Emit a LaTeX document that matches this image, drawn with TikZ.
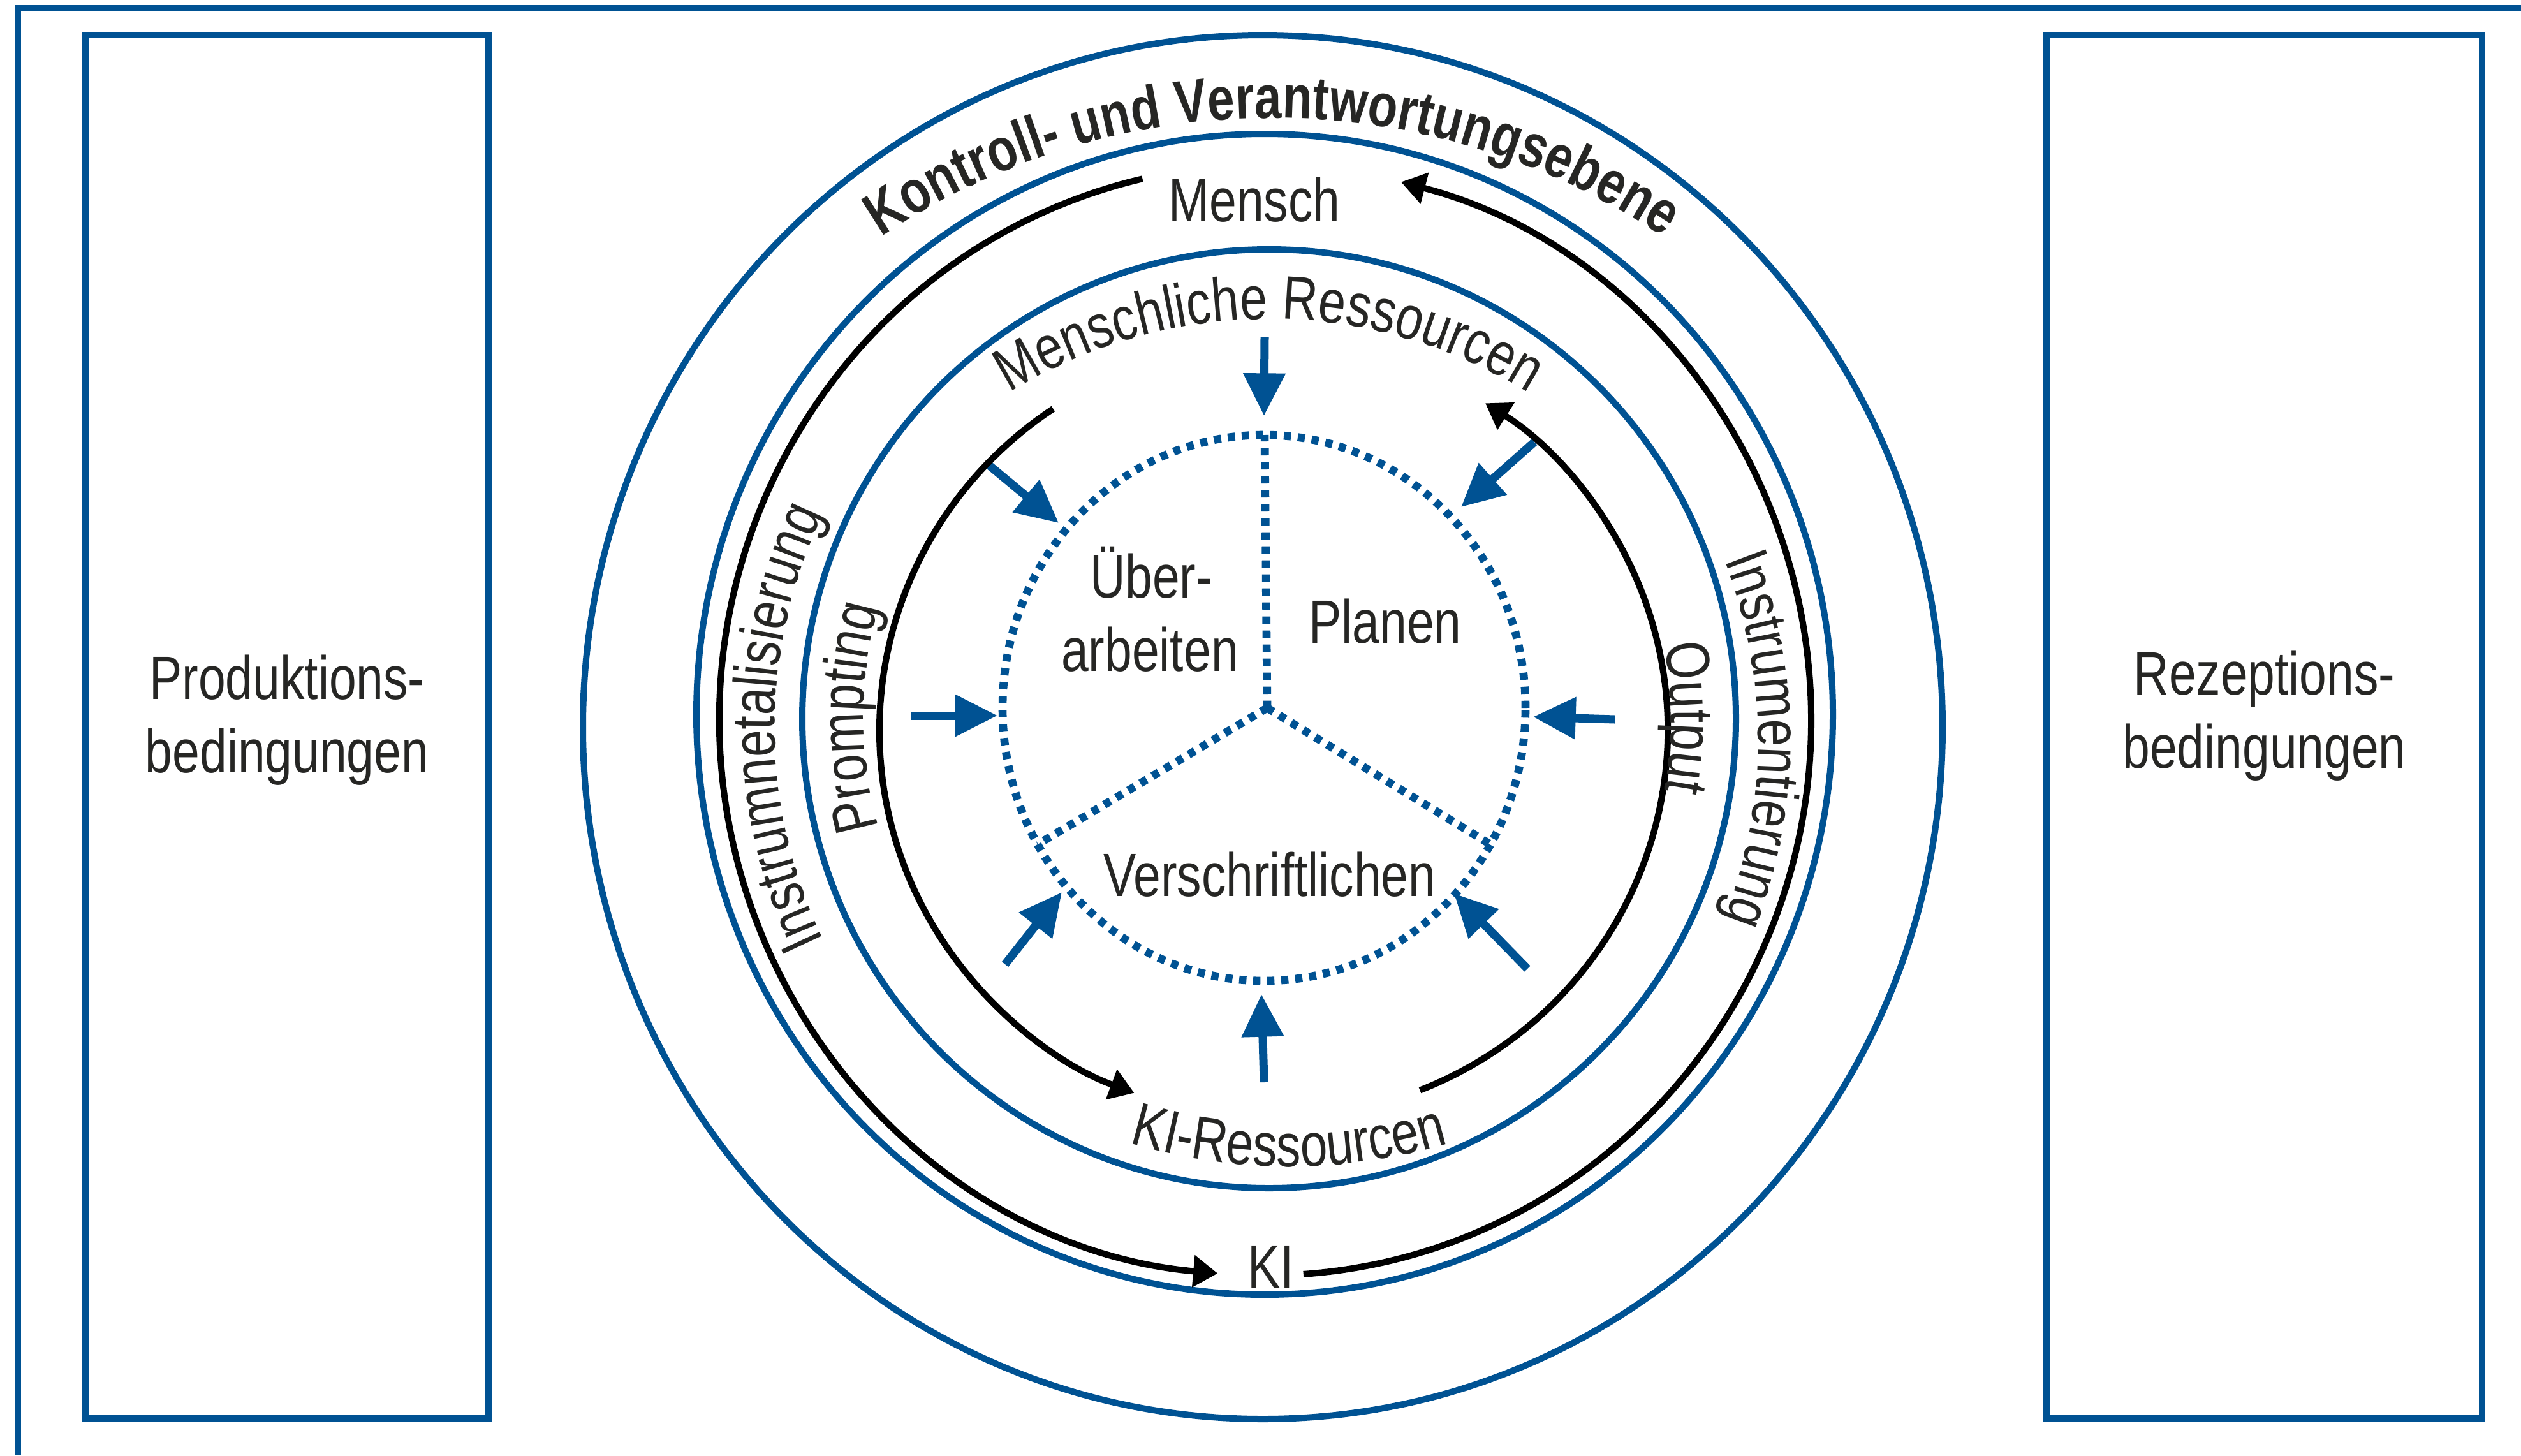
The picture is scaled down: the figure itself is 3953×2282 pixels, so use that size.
\documentclass[tikz,border=0pt]{standalone}
\usepackage{fontspec}
\setmainfont{Liberation Sans}
\newfontfamily\narrowfam{Liberation Sans}[FakeStretch=0.8]
\usetikzlibrary{arrows.meta,decorations.text}
\definecolor{kblue}{RGB}{0,82,147}
\definecolor{ktext}{RGB}{38,38,36}
\newcommand\lblfont{\narrowfam\fontsize{28.8pt}{34.5pt}\selectfont}
\newcommand\lblbold{\narrowfam\bfseries\fontsize{28.6pt}{34pt}\selectfont}
\begin{document}
\begin{tikzpicture}[x=0.3pt,y=0.3pt,
  frame/.style={draw=kblue,line width=3.1pt},
  boxst/.style={draw=kblue,line width=3.1pt,inner sep=0pt},
  ring/.style={draw=kblue,line width=3pt},
  cyc/.style={draw=black,line width=3pt,-{Triangle[length=11.5pt,width=14.5pt]}},
  inarrow/.style={draw=kblue,line width=3.9pt,-{Triangle[length=20pt,width=19pt]}},
  dotline/.style={draw=kblue,line width=3.8pt,dash pattern=on 3.4pt off 3.2pt},
  lbl/.style={text=ktext,font=\lblfont,inner sep=0pt,align=center},
  arctext/.style={decorate,decoration={text along path,text align=center}},
]
\useasboundingbox (0,0) rectangle (3953,-2282);
\fill[white] (0,0) rectangle (3953,-2282);

% outer frame (only top and left edges visible)
\draw[frame] (28,-2282) -- (28,-13) -- (3953,-13);

% side boxes
\node[boxst,minimum width=189.6pt,minimum height=650.7pt] (prod) at (450,-1139.5) {};
\node[boxst,minimum width=204.9pt,minimum height=650.7pt] (rez) at (3550.5,-1139.5) {};
\node[lbl] (prodtext) at (450,-1129) {Produktions-\\bedingungen};
\node[lbl] (reztext) at (3550.5,-1122) {Rezeptions-\\bedingungen};

% blue rings
\draw[ring] (1980,-1140) ellipse [x radius=1066, y radius=1085];
\draw[ring] (1983,-1120) ellipse [x radius=891, y radius=910];
\draw[ring] (1990,-1127) ellipse [x radius=732, y radius=736];

% dotted core
\draw[dotline] (1982,-1110) ellipse [x radius=410, y radius=428];
\coordinate (mid) at (1987,-1110);
\coordinate (dtop) at (1983,-682);
\coordinate (dleft) at (1627,-1324);
\coordinate (dright) at (2337,-1324);
\draw[dotline] (mid) -- (dtop);
\draw[dotline] (mid) -- (dleft);
\draw[dotline] (mid) -- (dright);

% blue arrows into the core
\coordinate (a1s) at (1983,-529);  \coordinate (a1e) at (1982,-652);
\coordinate (a2s) at (1549,-728);  \coordinate (a2e) at (1660,-820);
\coordinate (a3s) at (1429,-1122); \coordinate (a3e) at (1564,-1122);
\coordinate (a4s) at (1576,-1512); \coordinate (a4e) at (1665,-1399);
\coordinate (a5s) at (1982,-1697); \coordinate (a5e) at (1978,-1559);
\coordinate (a6s) at (2395,-1519); \coordinate (a6e) at (2280,-1401);
\coordinate (a7s) at (2532,-1128); \coordinate (a7e) at (2404,-1124);
\coordinate (a8s) at (2406,-693);  \coordinate (a8e) at (2291,-795);
\foreach \i in {1,...,8} {\draw[inarrow] (a\i s) -- (a\i e);}

% black cycle arcs (outer: Mensch <-> KI)
\draw[cyc,shift={(1984,-1129)}] (103:856 and 871) arc[start angle=103,end angle=265,x radius=856,y radius=871];
\draw[cyc,shift={(1984,-1129)}] (-86:856 and 871) arc[start angle=-86,end angle=75.6,x radius=856,y radius=871];
% black cycle arcs (inner: Menschliche Ressourcen <-> KI-Ressourcen)
\draw[cyc,shift={(1997,-1145)}] (124:618 and 608) arc[start angle=124,end angle=249.3,x radius=618,y radius=608];
\draw[cyc,shift={(1997,-1145)}] (-68.2:618 and 608) arc[start angle=-68.2,end angle=57.5,x radius=618,y radius=608];

% straight labels
\node[lbl,anchor=base] (mensch) at (1967,-347) {Mensch};
\node[lbl,anchor=base] (ki) at (1993,-2019) {KI};
\node[lbl,anchor=base] (ueber) at (1805,-937) {Über-};
\node[lbl,anchor=base] (arbeiten) at (1803,-1052) {arbeiten};
\node[lbl,anchor=base] (planen) at (2172,-1008) {Planen};
\node[lbl,anchor=base] (verschr) at (1991,-1405) {Verschriftlichen};

% curved labels
\path[arctext,decoration={text={|\lblbold\color{ktext}|Kontroll- und Verantwortungsebene}},shift={(1995,-1285)}]
  (130:1100) arc[start angle=130,end angle=50,radius=1100];
\path[arctext,decoration={text={|\lblfont\color{ktext}|Menschliche Ressourcen}},shift={(1990,-1270)}]
  (130:770) arc[start angle=130,end angle=50,radius=770];
\path[arctext,decoration={text={|\lblfont\color{ktext}|KI-Ressourcen}},shift={(2021,-949)}]
  (245:880) arc[start angle=245,end angle=295,radius=880];
\path[arctext,decoration={text={|\lblfont\color{ktext}|Instrumnetalisierung}},shift={(1985,-1140)}]
  (215:770) arc[start angle=215,end angle=145,radius=770];
\path[arctext,decoration={text={|\lblfont\color{ktext}|Prompting}},shift={(1990,-1125)}]
  (200:636) arc[start angle=200,end angle=160,radius=636];
\path[arctext,decoration={text={|\lblfont\color{ktext}|Output}},shift={(1990,-1125)}]
  (20:630) arc[start angle=20,end angle=-20,radius=630];
\path[arctext,decoration={text={|\lblfont\color{ktext}|Instrumentierung}},shift={(1984,-1160)}]
  (30:773) arc[start angle=30,end angle=-30,radius=773];
\end{tikzpicture}
\end{document}
